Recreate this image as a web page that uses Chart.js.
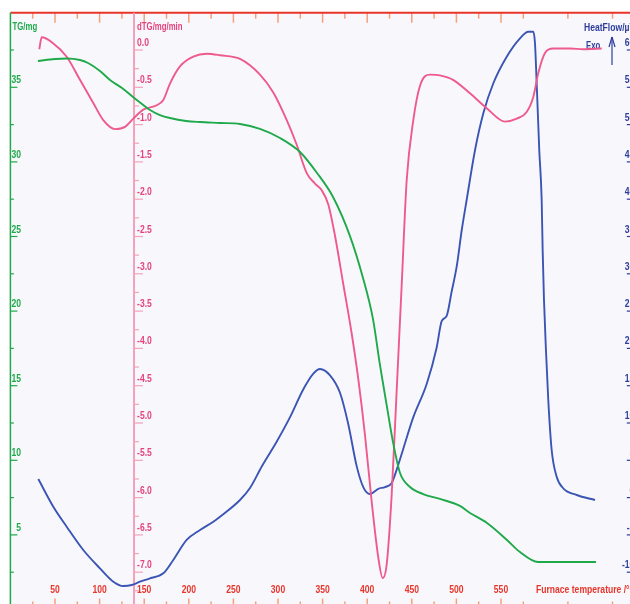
<!DOCTYPE html>
<html>
<head>
<meta charset="utf-8">
<script src="https://cdn.jsdelivr.net/npm/chart.js@4.4.0/dist/chart.umd.min.js"></script>
<style>
  html, body { margin: 0; padding: 0; background: #fff; overflow: hidden; }
  #wrap { width: 630px; height: 604px; overflow: hidden; position: relative; }
  #thermo { position: absolute; left: 0; top: 0; }
</style>
</head>
<body>
<div id="wrap"><canvas id="thermo" width="660" height="640"></canvas></div>
<script>
// TG curve: furnace temperature (°C) and mass (mg)
const tgTemp = [30.9, 50.0, 63.5, 78.0, 87.0, 100.4, 111.7, 125.1, 137.4, 147.5, 156.5, 167.7, 178.9, 196.9, 212.6, 235.0, 257.4, 279.8, 302.2, 324.7, 343.7, 361.7, 380.7, 395.3, 406.5, 414.3, 422.2, 428.9, 436.8, 448.0, 462.6, 481.6, 504.0, 515.2, 534.3, 556.7, 571.3, 591.5, 616.1, 656.5];
const tgMass = [36.76, 36.90, 36.93, 36.83, 36.63, 36.09, 35.49, 34.95, 34.35, 33.88, 33.48, 33.14, 32.94, 32.74, 32.67, 32.61, 32.54, 32.21, 31.60, 30.66, 29.26, 27.65, 25.03, 22.22, 19.46, 16.39, 13.57, 11.23, 9.15, 8.21, 7.74, 7.41, 6.94, 6.47, 5.80, 4.66, 3.85, 3.18, 3.18, 3.18];

// dTG curve: temperature (°C) and rate (mg/min)
const dtgTemp = [32.4, 35.1, 47.8, 63.1, 78.0, 92.9, 104.1, 117.3, 128.5, 137.8, 149.0, 164.0, 171.4, 178.9, 190.1, 205.0, 220.1, 235.0, 257.4, 279.8, 294.7, 309.8, 321.0, 332.2, 341.5, 349.0, 356.4, 363.9, 373.2, 382.6, 390.0, 397.5, 405.0, 412.4, 417.4, 421.9, 427.5, 433.1, 438.7, 444.3, 451.7, 459.2, 470.4, 481.6, 496.2, 515.2, 534.0, 554.5, 567.6, 578.8, 586.2, 591.8, 599.3, 608.6, 627.4, 642.3, 662.9];
const dtgRate = [0.01, 0.17, 0.09, -0.09, -0.40, -0.71, -0.94, -1.06, -1.03, -0.92, -0.80, -0.74, -0.67, -0.45, -0.22, -0.09, -0.05, -0.07, -0.12, -0.33, -0.57, -0.94, -1.27, -1.65, -1.79, -1.88, -2.07, -2.49, -3.14, -3.80, -4.41, -5.16, -6.05, -6.80, -7.08, -6.89, -5.95, -4.55, -3.14, -1.74, -0.94, -0.48, -0.33, -0.34, -0.40, -0.58, -0.78, -0.96, -0.92, -0.83, -0.63, -0.31, -0.04, 0.02, 0.02, 0.01, 0.02];

// heat flow curve: temperature (°C) and signal (µV)
const hfTemp = [31.3, 48.1, 63.1, 81.7, 100.4, 115.4, 126.6, 136.0, 145.3, 156.5, 171.4, 182.6, 197.6, 212.6, 227.5, 235.0, 257.4, 268.6, 282.1, 298.5, 313.5, 328.4, 339.6, 347.1, 358.3, 369.5, 378.8, 388.2, 395.6, 403.1, 412.4, 420.0, 427.5, 433.1, 440.5, 451.7, 466.7, 477.9, 483.5, 489.1, 494.7, 500.3, 506.0, 511.5, 520.9, 530.2, 541.4, 556.4, 571.3, 580.6, 586.2, 588.1, 590.0, 592.9, 595.6, 596.7, 598.2, 600.4, 603.0, 606.8, 612.4, 619.8, 634.8, 655.4];
const hfSignal = [2.49, -1.22, -3.90, -7.02, -9.48, -11.27, -11.85, -11.72, -11.27, -10.82, -10.15, -8.36, -5.68, -4.34, -3.23, -2.56, -0.32, 1.29, 4.24, 7.49, 10.78, 14.52, 16.62, 17.24, 16.39, 14.05, 9.84, 4.22, 1.41, 0.48, 1.18, 1.41, 1.97, 3.75, 6.56, 10.78, 15.23, 20.13, 23.65, 24.36, 27.63, 30.95, 35.87, 39.89, 46.60, 51.51, 55.54, 59.10, 61.57, 62.45, 62.45, 60.90, 55.54, 46.60, 39.89, 33.19, 26.49, 19.79, 13.08, 6.38, 2.80, 1.25, 0.35, -0.32];

// tick labels
const tempLabels = [50, 100, 150, 200, 250, 300, 350, 400, 450, 500, 550];
const tempMinor = [25, 75, 125, 175, 225, 275, 325, 375, 425, 475, 525, 575, 625, 675];
const tgLabels = [35, 30, 25, 20, 15, 10, 5];
const tgMinor = [37.5, 32.5, 27.5, 22.5, 17.5, 12.5, 7.5, 2.5];
const dtgLabels = [0, -0.5, -1, -1.5, -2, -2.5, -3, -3.5, -4, -4.5, -5, -5.5, -6, -6.5, -7];
const hfLabels = [60, 55, 50, 45, 40, 35, 30, 25, 20, 15, 10, 5, 0, -5, -10];
const dtgAxisAt = 138.6; // temperature where the dTG axis line stands

const GREEN = '#1fa94a', PINK = '#ee5a8c', PINK_AXIS = '#f3a2ba', NAVY = '#2c3d9c', RED = '#e8352b', SALMON = '#f4a07c';

function label(ctx, s, x, y, color, align, size) {
  ctx.save();
  ctx.font = 'bold ' + size + 'px "Liberation Sans", Arial, sans-serif';
  ctx.fillStyle = color;
  ctx.textBaseline = 'middle';
  ctx.textAlign = align;
  ctx.translate(x, y);
  ctx.scale(0.78, 1);
  ctx.fillText(s, 0, 0);
  ctx.restore();
}

function seg(ctx, x1, y1, x2, y2, color, w) {
  ctx.beginPath();
  ctx.strokeStyle = color;
  ctx.lineWidth = w;
  ctx.moveTo(x1, y1);
  ctx.lineTo(x2, y2);
  ctx.stroke();
}

const thermoAxes = {
  id: 'thermoAxes',
  beforeDraw(chart) {
    const {ctx, chartArea: a} = chart;
    ctx.save();
    ctx.fillStyle = '#f8f8fc';
    ctx.fillRect(a.left, a.top, a.right - a.left, a.bottom - a.top);
    ctx.restore();
  },
  beforeDatasetsDraw(chart) {
    const {ctx, chartArea: a, scales} = chart;
    const xs = scales.x, tg = scales.yTG, dtg = scales.yDTG, hf = scales.yHF;
    ctx.save();

    // temperature ticks, top and bottom
    tempLabels.forEach(t => {
      const px = xs.getPixelForValue(t);
      seg(ctx, px, a.top, px, a.top + 10, SALMON, 1.5);
      seg(ctx, px, a.bottom, px, a.bottom - 11, SALMON, 1.5);
      label(ctx, String(t), px, 590, RED, 'center', 11);
    });
    tempMinor.forEach(t => {
      const px = xs.getPixelForValue(t);
      seg(ctx, px, a.top, px, a.top + 6, SALMON, 1.5);
      seg(ctx, px, a.bottom, px, a.bottom - 8, SALMON, 1.5);
    });
    label(ctx, 'Furnace temperature /°C', 536, 590, RED, 'left', 11);
    seg(ctx, a.left, a.top, a.right, a.top, RED, 2);

    // TG axis
    seg(ctx, a.left, a.top, a.left, a.bottom, GREEN, 1.5);
    tgLabels.forEach(v => {
      const py = tg.getPixelForValue(v);
      seg(ctx, a.left, py, a.left + 7, py, GREEN, 1.2);
      label(ctx, String(v), 21, py - 7, GREEN, 'right', 11);
    });
    tgMinor.forEach(v => {
      const py = tg.getPixelForValue(v);
      seg(ctx, a.left, py, a.left + 3.5, py, GREEN, 1.2);
    });
    label(ctx, 'TG/mg', 12.5, 27.5, GREEN, 'left', 10);

    // dTG axis
    const ax = xs.getPixelForValue(dtgAxisAt);
    seg(ctx, ax, a.top, ax, a.bottom, PINK_AXIS, 2);
    dtgLabels.forEach(v => {
      const py = dtg.getPixelForValue(v);
      seg(ctx, ax, py, ax + 9, py, PINK_AXIS, 1.2);
      const mid = dtg.getPixelForValue(v - 0.25);
      seg(ctx, ax, mid, ax + 5, mid, PINK_AXIS, 1.2);
      label(ctx, v.toFixed(1), ax + 3, py - 7, '#e3447c', 'left', 11);
    });
    label(ctx, 'dTG/mg/min', ax + 3, 27.5, '#e3447c', 'left', 10);

    // heat flow axis (mostly past the right edge)
    hfLabels.forEach(v => {
      const py = hf.getPixelForValue(v);
      seg(ctx, a.right - 8, py, a.right, py, NAVY, 1.2);
      label(ctx, String(v), a.right - 0.5, py - 7, NAVY, 'right', 11);
    });
    label(ctx, 'HeatFlow/µV', 584, 27.5, NAVY, 'left', 11);
    label(ctx, 'Exo', 586, 46, NAVY, 'left', 10);
    seg(ctx, 612, 65, 612, 37, NAVY, 1.2);
    seg(ctx, 612, 37, 609, 47, NAVY, 1.2);
    seg(ctx, 612, 37, 615, 47, NAVY, 1.2);

    ctx.restore();
  }
};

function pts(xs, ys) {
  return xs.map((x, i) => ({x: x, y: ys[i]}));
}

new Chart(document.getElementById('thermo'), {
  type: 'line',
  data: {
    datasets: [
      { label: 'TG', data: pts(tgTemp, tgMass), yAxisID: 'yTG', borderColor: GREEN },
      { label: 'dTG', data: pts(dtgTemp, dtgRate), yAxisID: 'yDTG', borderColor: PINK },
      { label: 'HeatFlow', data: pts(hfTemp, hfSignal), yAxisID: 'yHF', borderColor: '#3b55b4' }
    ]
  },
  options: {
    responsive: false,
    animation: false,
    devicePixelRatio: 1,
    layout: { padding: { left: 10.4, top: 12.7, right: 25.2, bottom: 30.5 } },
    plugins: { legend: { display: false }, tooltip: { enabled: false } },
    elements: {
      point: { radius: 0 },
      line: { borderWidth: 1.9, cubicInterpolationMode: 'monotone', fill: false }
    },
    scales: {
      x: { type: 'linear', min: 0, max: 700, display: false },
      yTG: { type: 'linear', min: 0, max: 40, display: false },
      yDTG: { type: 'linear', min: -7.5, max: 0.5, display: false },
      yHF: { type: 'linear', min: -15, max: 65, display: false }
    }
  },
  plugins: [thermoAxes]
});
</script>
</body>
</html>
